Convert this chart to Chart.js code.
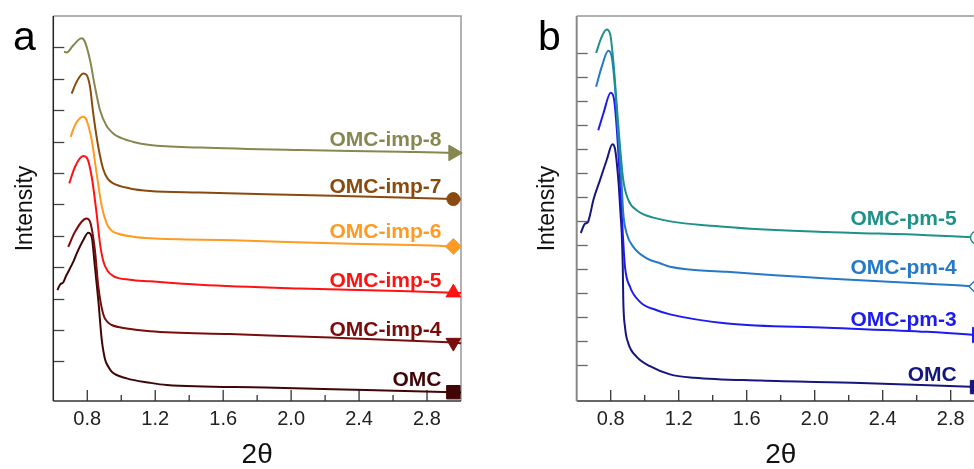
<!DOCTYPE html>
<html>
<head>
<meta charset="utf-8">
<script src="https://cdn.jsdelivr.net/npm/chart.js@4.4.1/dist/chart.umd.min.js"></script>
<style>
  html, body { margin: 0; padding: 0; background: #fff; overflow: hidden; width: 974px; height: 469px; }
  #panelA { position: absolute; left: 0; top: 0; }
  #panelB { position: absolute; left: 487px; top: 0; }
</style>
</head>
<body>
<canvas id="panelA" width="487" height="469"></canvas>
<canvas id="panelB" width="520" height="469"></canvas>
<script>
// ---- panel a data (2theta, stacked intensity) ----
const imp8X = [0.663, 0.679, 0.718, 0.767, 0.786, 0.816, 0.845, 0.875, 0.914, 0.945, 0.973, 1.071, 1.169, 1.463, 2.051, 2.640, 2.955, 3.0];
const imp8Y = [10.86, 10.84, 11.07, 11.29, 11.18, 10.60, 9.75, 9.00, 8.50, 8.30, 8.18, 7.99, 7.89, 7.81, 7.73, 7.68, 7.64, 7.62];

const imp7X = [0.708, 0.738, 0.776, 0.796, 0.816, 0.835, 0.865, 0.894, 0.920, 0.953, 1.051, 1.169, 1.46, 2.05, 2.64, 2.955, 3.0];
const imp7Y = [9.53, 9.91, 10.17, 10.12, 9.75, 8.90, 7.83, 7.12, 6.82, 6.67, 6.51, 6.43, 6.38, 6.30, 6.22, 6.17, 6.16];

const imp6X = [0.702, 0.728, 0.776, 0.796, 0.826, 0.855, 0.885, 0.914, 0.940, 0.973, 1.071, 1.169, 1.658, 2.247, 2.955, 3.0];
const imp6Y = [8.15, 8.53, 8.79, 8.68, 8.05, 6.99, 5.95, 5.40, 5.18, 5.08, 4.97, 4.92, 4.86, 4.76, 4.66, 4.64];

const imp5X = [0.694, 0.728, 0.776, 0.800, 0.826, 0.855, 0.875, 0.894, 0.920, 0.953, 1.051, 1.169, 1.463, 2.051, 2.640, 2.955, 3.0];
const imp5Y = [6.67, 7.20, 7.54, 7.46, 6.88, 5.71, 4.75, 4.20, 3.88, 3.72, 3.60, 3.55, 3.44, 3.32, 3.24, 3.19, 3.18];

const imp4X = [0.688, 0.728, 0.796, 0.816, 0.845, 0.865, 0.894, 0.920, 0.944, 1.032, 1.169, 1.64, 2.23, 2.89, 2.955, 3.0];
const imp4Y = [4.65, 5.13, 5.55, 5.45, 4.54, 3.38, 2.50, 2.25, 2.16, 2.05, 1.96, 1.87, 1.76, 1.62, 1.60, 1.58];

const omcAX = [0.624, 0.640, 0.659, 0.675, 0.698, 0.720, 0.738, 0.776, 0.806, 0.826, 0.845, 0.865, 0.885, 0.904, 0.925, 0.944, 1.032, 1.169, 1.267, 1.85, 2.44, 2.955, 3.0];
const omcAY = [3.27, 3.45, 3.52, 3.72, 3.96, 4.20, 4.44, 4.86, 5.10, 4.97, 4.01, 2.95, 1.70, 1.08, 0.82, 0.67, 0.46, 0.32, 0.25, 0.17, 0.09, 0.02, 0.01];

// ---- panel b data ----
const pm5X = [0.714, 0.747, 0.776, 0.796, 0.815, 0.835, 0.855, 0.874, 0.904, 0.953, 1.051, 1.486, 2.074, 2.662, 2.955, 3.0];
const pm5Y = [14.01, 14.68, 14.99, 14.82, 13.71, 11.90, 10.10, 8.71, 7.88, 7.46, 7.15, 6.76, 6.55, 6.42, 6.32, 6.31];

const pm4X = [0.714, 0.747, 0.786, 0.806, 0.825, 0.845, 0.865, 0.874, 0.894, 0.933, 1.012, 1.094, 1.149, 1.486, 2.074, 2.662, 2.955, 3.0];
const pm4Y = [12.60, 13.43, 14.10, 13.85, 12.60, 10.51, 8.43, 7.32, 6.49, 5.93, 5.45, 5.24, 5.10, 4.89, 4.61, 4.40, 4.28, 4.27];

const pm3X = [0.727, 0.757, 0.800, 0.819, 0.835, 0.851, 0.865, 0.871, 0.884, 0.914, 0.972, 1.071, 1.149, 1.486, 2.074, 2.662, 2.955, 3.0];
const pm3Y = [10.79, 11.49, 12.35, 12.11, 10.93, 9.13, 7.32, 6.49, 5.10, 4.26, 3.64, 3.29, 3.12, 2.74, 2.56, 2.39, 2.26, 2.25];

const omcBX = [0.624, 0.649, 0.665, 0.678, 0.698, 0.737, 0.776, 0.810, 0.825, 0.845, 0.859, 0.865, 0.871, 0.874, 0.884, 0.904, 0.953, 1.031, 1.149, 1.29, 1.682, 2.27, 2.955, 3.0];
const omcBY = [6.51, 6.90, 6.95, 7.25, 7.88, 8.71, 9.54, 10.21, 10.03, 8.71, 7.18, 6.49, 5.10, 3.71, 2.60, 1.90, 1.35, 0.96, 0.62, 0.48, 0.36, 0.26, 0.09, 0.08];

const labelsA = ['OMC-imp-8', 'OMC-imp-7', 'OMC-imp-6', 'OMC-imp-5', 'OMC-imp-4', 'OMC'];
const labelsB = ['OMC-pm-5', 'OMC-pm-4', 'OMC-pm-3', 'OMC'];
const xTickValues = [0.8, 1.2, 1.6, 2.0, 2.4, 2.8];

const MARKER_X = 2.955;
const FONT = '"Liberation Sans", Arial, sans-serif';
Chart.defaults.font.family = FONT;

function pts(xs, ys) {
  return xs.map((x, i) => ({ x: x, y: ys[i] }));
}

function series(label, xs, ys, color, style) {
  return {
    label: label,
    data: pts(xs, ys),
    showLine: true,
    borderColor: color,
    borderWidth: 2,
    cubicInterpolationMode: 'monotone',
    pointStyle: style.shape,
    pointRotation: style.rot || 0,
    pointRadius: c => (c.raw && c.raw.x === MARKER_X ? style.r : 0),
    pointHoverRadius: 0,
    pointBackgroundColor: style.hollow ? '#fff' : color,
    pointBorderColor: color,
    pointBorderWidth: style.hollow ? 1.5 : 1,
    labelOffset: style.off,
    clip: false
  };
}

// tick marks (inside), frame, panel letter, curve labels
const decoPlugin = {
  id: 'deco',
  beforeDatasetsDraw(chart, args, o) {
    const { ctx, chartArea: a, scales: { x, y } } = chart;
    ctx.save();
    ctx.lineWidth = 1.3;
    ctx.strokeStyle = '#333';
    x.ticks.forEach(t => {
      if (t.value <= x.min + 1e-6 || t.value >= x.max - 1e-6) return;
      const px = x.getPixelForValue(t.value);
      const major = Math.round(t.value * 10) % 4 === 0;
      ctx.beginPath();
      ctx.moveTo(px, a.bottom);
      ctx.lineTo(px, a.bottom - (major ? 11 : 6));
      ctx.stroke();
    });
    ctx.strokeStyle = o.yTickColor;
    y.ticks.forEach(t => {
      if (Math.abs(t.value - Math.round(t.value)) > 1e-6 || t.value < 0 || t.value > y.max - 0.1) return;
      const py = Math.round(y.getPixelForValue(t.value)) + 0.5;
      ctx.beginPath();
      ctx.moveTo(a.left, py);
      ctx.lineTo(a.left + 11, py);
      ctx.stroke();
    });
    // frame
    ctx.lineWidth = 1.5;
    ctx.strokeStyle = '#999';
    ctx.beginPath();
    ctx.moveTo(a.left, a.top); ctx.lineTo(a.right, a.top); ctx.lineTo(a.right, a.bottom);
    ctx.stroke();
    ctx.strokeStyle = '#333';
    ctx.beginPath();
    ctx.moveTo(a.left, a.bottom); ctx.lineTo(a.right, a.bottom);
    ctx.stroke();
    ctx.lineWidth = o.leftWidth;
    ctx.strokeStyle = o.leftColor;
    ctx.beginPath();
    ctx.moveTo(a.left, a.top); ctx.lineTo(a.left, a.bottom);
    ctx.stroke();
    ctx.restore();
  },
  afterDatasetsDraw(chart, args, o) {
    const { ctx, scales: { x, y } } = chart;
    ctx.save();
    ctx.font = 'bold 21px ' + FONT;
    ctx.textAlign = 'right';
    ctx.textBaseline = 'alphabetic';
    chart.data.datasets.forEach(ds => {
      const last = ds.data.find(p => p.x === MARKER_X);
      ctx.fillStyle = ds.borderColor;
      ctx.fillText(ds.label, x.getPixelForValue(o.labelX), y.getPixelForValue(last.y) - ds.labelOffset);
    });
    ctx.font = '41px ' + FONT;
    ctx.textAlign = 'left';
    ctx.fillStyle = '#000';
    ctx.fillText(o.letter, o.letterX, 50);
    ctx.restore();
  }
};

function makePanel(id, datasets, p) {
  new Chart(document.getElementById(id), {
    type: 'scatter',
    data: { datasets: datasets },
    plugins: [decoPlugin],
    options: {
      responsive: false,
      animation: false,
      layout: { padding: { left: 0, right: p.padRight, top: 16, bottom: 0 } },
      plugins: {
        legend: { display: false },
        tooltip: { enabled: false },
        deco: { letter: p.letter, letterX: p.letterX, labelX: p.labelX,
                yTickColor: p.yTickColor, leftColor: p.leftColor, leftWidth: p.leftWidth }
      },
      scales: {
        x: {
          type: 'linear', min: 0.6, max: 3.0,
          afterFit: s => { s.height = 68; },
          grid: { display: false, drawTicks: false },
          border: { display: false },
          ticks: {
            stepSize: 0.2, autoSkip: false, maxRotation: 0, padding: 6,
            color: '#222', font: { size: 20 },
            callback: v => (xTickValues.some(t => Math.abs(t - v) < 1e-6) ? v.toFixed(1) : '')
          },
          title: { display: true, text: '2θ', color: '#111', font: { size: 28, lineHeight: 1 }, padding: 0 }
        },
        y: {
          min: p.yMin, max: p.yMax,
          afterFit: s => { s.width = p.yWidth; },
          grid: { display: false, drawTicks: false },
          border: { display: false },
          ticks: { display: false, stepSize: 1 },
          title: { display: true, text: 'Intensity', color: '#111',
                   font: { size: 23, lineHeight: 1 }, padding: { top: p.titlePad, bottom: 0 } }
        }
      }
    }
  });
}

makePanel('panelA', [
  series(labelsA[0], imp8X, imp8Y, '#878850', { shape: 'triangle', rot: 90, r: 9, off: 6.5 }),
  series(labelsA[1], imp7X, imp7Y, '#8a4a0e', { shape: 'circle', r: 6.5, off: 6 }),
  series(labelsA[2], imp6X, imp6Y, '#ff9a22', { shape: 'rectRot', r: 8, off: 8.5 }),
  series(labelsA[3], imp5X, imp5Y, '#ff1212', { shape: 'triangle', r: 8.5, off: 5.5 }),
  series(labelsA[4], imp4X, imp4Y, '#7a0c0c', { shape: 'triangle', rot: 180, r: 8.5, off: 7 }),
  series(labelsA[5], omcAX, omcAY, '#400606', { shape: 'rect', r: 9.5, off: 6 })
], { padRight: 26, yWidth: 53.3, yMin: -0.26, yMax: 12.0, titlePad: 14.5,
     letter: 'a', letterX: 13, labelX: 2.885, yTickColor: '#444', leftColor: '#222', leftWidth: 1.5 });

makePanel('panelB', [
  series(labelsB[0], pm5X, pm5Y, '#1f918b', { shape: 'circle', r: 6.5, hollow: true, off: 13 }),
  series(labelsB[1], pm4X, pm4Y, '#2479c8', { shape: 'rectRot', r: 8, hollow: true, off: 12.5 }),
  series(labelsB[2], pm3X, pm3Y, '#1c1cf0', { shape: 'triangle', rot: 90, r: 9, off: 8.5 }),
  series(labelsB[3], omcBX, omcBY, '#16167f', { shape: 'rect', r: 9.5, off: 6.5 })
], { padRight: 22.3, yWidth: 89.7, yMin: -0.49, yMax: 15.55, titlePad: 49.5,
     letter: 'b', letterX: 51, labelX: 2.835, yTickColor: '#666', leftColor: '#888', leftWidth: 2 });
</script>
</body>
</html>
